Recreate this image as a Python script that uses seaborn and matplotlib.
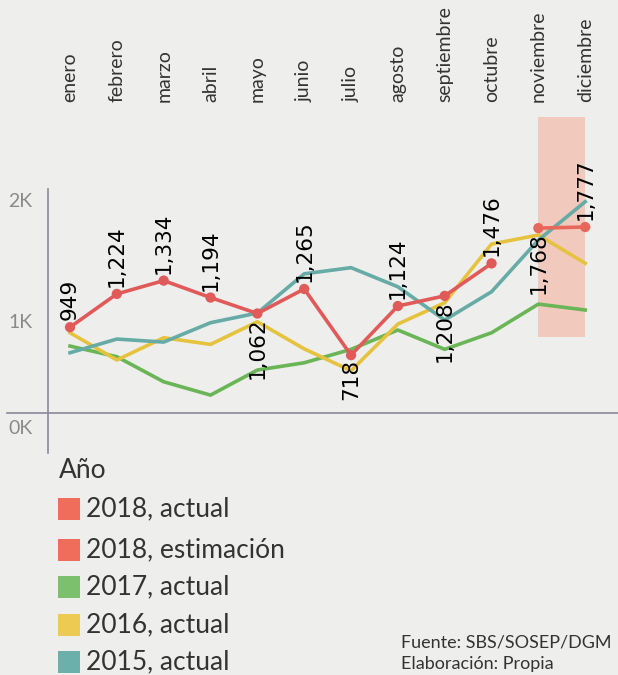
import matplotlib
matplotlib.use("Agg")  # non-interactive backend for saving figures
import matplotlib.pyplot as plt
from matplotlib.lines import Line2D
from matplotlib.patches import Rectangle
import pandas as pd
import seaborn as sns

# ── Data ───────────────────────────────────────────────────────────────────
MESES = ["enero", "febrero", "marzo", "abril", "mayo", "junio", "julio",
         "agosto", "septiembre", "octubre", "noviembre", "diciembre"]

VAL_2018_ACTUAL = [949, 1224, 1334, 1194, 1062, 1265, 718, 1124, 1208, 1476]
VAL_2018_ESTIM  = [1768, 1777]          # noviembre, diciembre
VAL_2017 = [793, 705, 498, 388, 595, 655, 766, 926, 766, 903, 1140, 1091]
VAL_2016 = [903, 678, 862, 807, 994, 770, 589, 975, 1151, 1636, 1711, 1477]
VAL_2015 = [738, 851, 826, 986, 1066, 1390, 1441, 1283, 1008, 1242, 1669, 1986]

SERIES = ["2018, actual", "2018, estimación", "2017, actual", "2016, actual", "2015, actual"]
LINE_COLORS = ["#e15a5a", "#e8675b", "#6ab556", "#e6c33f", "#66aba6"]
LEGEND_COLORS = ["#ee6e5b", "#ee6e5b", "#7cc06e", "#edcb52", "#6bb0aa"]

# labels drawn below the point instead of above
LABEL_BELOW = {"mayo", "julio", "septiembre", "noviembre"}

rows = []
for mes, v in zip(MESES, VAL_2018_ACTUAL):
    rows.append(("2018, actual", mes, v))
for mes, v in zip(MESES[10:], VAL_2018_ESTIM):
    rows.append(("2018, estimación", mes, v))
for name, vals in [("2017, actual", VAL_2017), ("2016, actual", VAL_2016),
                   ("2015, actual", VAL_2015)]:
    for mes, v in zip(MESES, vals):
        rows.append((name, mes, v))
df = pd.DataFrame(rows, columns=["serie", "mes", "valor"])
df["pos"] = df["mes"].map({m: i for i, m in enumerate(MESES)})

W, H = 618, 675
fx = lambda x: x / W
fy = lambda y: 1 - y / H

BG = "#eeeeed"
TXT = dict(family="Lato")
fig = plt.figure(figsize=(W / 100, H / 100), dpi=100, facecolor=BG)
ax = fig.add_axes([fx(48), fy(413), (618 - 48) / W, (413 - 117) / H])
ax.set_facecolor(BG)

# shaded estimation window
ax.fill_between([10, 11], 868, 2686, color="#f3c3b5", alpha=0.85, lw=0, zorder=1)

palette = dict(zip(SERIES, LINE_COLORS))
order = ["2017, actual", "2016, actual", "2015, actual", "2018, actual", "2018, estimación"]
for i, s in enumerate(order):
    sub = df[df["serie"] == s]
    sns.lineplot(data=sub, x="pos", y="valor", color=palette[s], linewidth=2.6,
                 ax=ax, legend=False, zorder=3 + i)

red = df[df["serie"].str.startswith("2018")]
sns.scatterplot(data=red, x="pos", y="valor", hue="serie", palette=palette,
                s=55, edgecolor="none", ax=ax, legend=False, zorder=10)

for _, r in red.iterrows():
    below = r["mes"] in LABEL_BELOW
    ax.annotate(f"{r['valor']:,}", (r["pos"], r["valor"]),
                xytext=(0, -3 if below else 5), textcoords="offset points",
                rotation=90, ha="center", va="top" if below else "bottom",
                fontsize=15.5, color="black", family="DejaVu Sans", zorder=11)

ax.set_xlim(-0.47, 11.70)
ax.set_ylim(240, 2686)
ax.set_xlabel("")
ax.set_ylabel("")

ax.xaxis.tick_top()
ax.set_xticks(range(len(MESES)))
ax.set_xticklabels(MESES, rotation=90, va="bottom", fontsize=14,
                   color="#333333", **TXT)
ax.tick_params(axis="x", length=0, pad=11)

ax.set_yticks([1000, 2000])
ax.set_yticklabels(["1K", "2K"], fontsize=14, color="#8a8a8a", **TXT)
ax.tick_params(axis="y", length=0, pad=11)
for sp in ax.spines.values():
    sp.set_visible(False)

fig.text(fx(33), fy(428), "0K", fontsize=14, color="#8a8a8a",
         ha="right", va="center", **TXT)

# axis lines
fig.add_artist(Line2D([fx(7), fx(618)], [fy(413), fy(413)], color="#8c8799",
                      lw=1.2, transform=fig.transFigure))
fig.add_artist(Line2D([fx(48), fx(48)], [fy(189), fy(453)], color="#8c8799",
                      lw=1.2, transform=fig.transFigure))

# ── Legend ─────────────────────────────────────────────────────────────────
fig.text(fx(59), fy(470), "Año", fontsize=19, color="#333333",
         ha="left", va="center", **TXT)
row_y = [509, 550, 587, 625, 662]
for name, col, yc in zip(SERIES, LEGEND_COLORS, row_y):
    fig.add_artist(Rectangle((fx(58), fy(yc + 11)), 22 / W, 22 / H,
                             facecolor=col, edgecolor="none",
                             transform=fig.transFigure))
    fig.text(fx(86), fy(yc), name, fontsize=19, color="#333333",
             ha="left", va="center", **TXT)

fig.text(fx(401), fy(643), "Fuente: SBS/SOSEP/DGM", fontsize=13,
         color="#333333", ha="left", va="center", **TXT)
fig.text(fx(401), fy(664), "Elaboración: Propia", fontsize=13,
         color="#333333", ha="left", va="center", **TXT)

fig.savefig("out.png", dpi=100, facecolor=BG)
plt.close(fig)
